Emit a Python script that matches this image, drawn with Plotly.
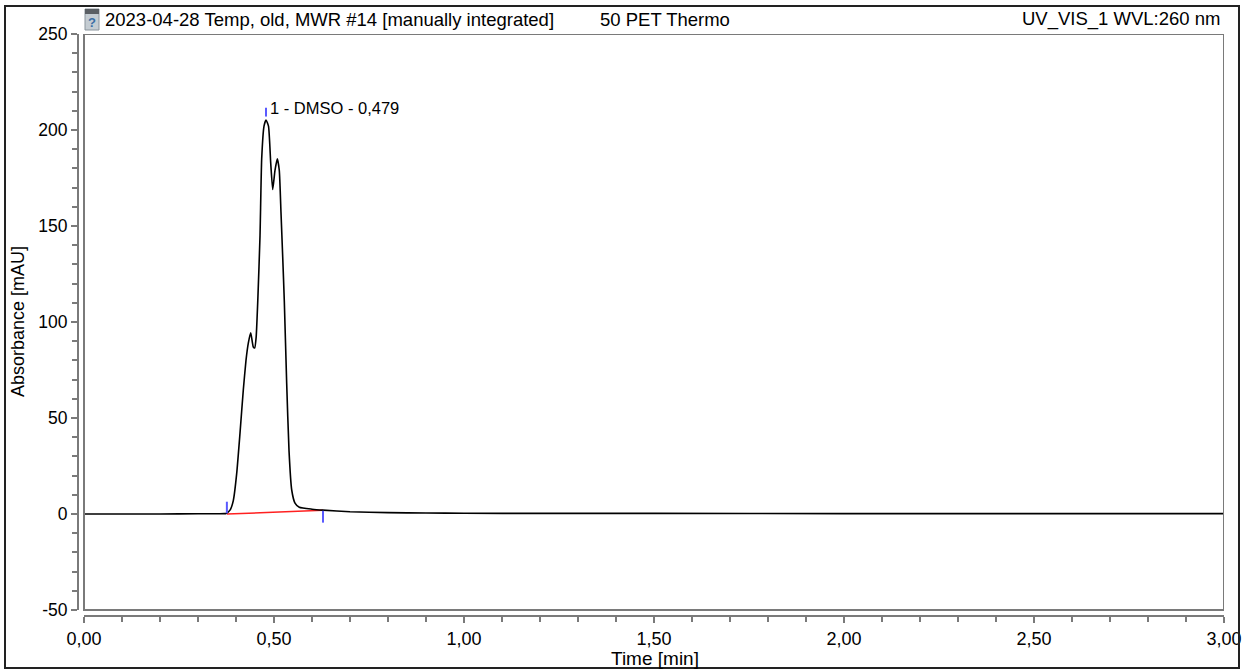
import plotly.graph_objects as go

# ---- data ----
time_min = [0.00, 0.10, 0.20, 0.30, 0.35, 0.370, 0.3737, 0.3842, 0.3929, 0.4018, 0.4105,
            0.4192, 0.4263, 0.4324, 0.4387, 0.4455, 0.4492, 0.4530, 0.4575, 0.4632, 0.4676,
            0.4737, 0.479, 0.4855, 0.4913, 0.4966, 0.5026, 0.5087, 0.5139, 0.5184, 0.5229,
            0.5271, 0.5334, 0.5395, 0.5466, 0.5553, 0.5666, 0.600, 0.629, 0.700, 0.800,
            0.900, 1.00, 1.20, 1.50, 2.00, 2.50, 3.00]
absorbance = [0.0, 0.0, 0.0, 0.1, 0.1, 0.2, 0.3, 2.0, 7.0, 21.0, 42.0,
              64.6, 80.0, 89.0, 94.4, 87.0, 86.5, 92.0, 112.0, 145.0, 185.0,
              202.0, 205.2, 202.0, 183.0, 169.0, 179.0, 185.0, 179.0, 157.0, 134.0,
              111.0, 68.0, 33.0, 12.5, 5.7, 3.5, 2.5, 2.0, 1.2, 0.7,
              0.5, 0.4, 0.3, 0.3, 0.2, 0.2, 0.2]

baseline_t = [0.376, 0.629]
baseline_v = [0.0, 1.9]
start_marker_v = [0.4, 6.4]
end_marker_v = [-4.5, 1.7]
peak_marker_v = [207.0, 211.6]
peak_time = 0.479
peak_label = "1 - DMSO - 0,479"

y_ticks = [-50, 0, 50, 100, 150, 200, 250]
y_tick_labels = ["-50", "0", "50", "100", "150", "200", "250"]
x_ticks = [0.0, 0.5, 1.0, 1.5, 2.0, 2.5, 3.0]
x_tick_labels = ["0,00", "0,50", "1,00", "1,50", "2,00", "2,50", "3,00"]
x_minor = [0.1, 0.2, 0.3, 0.4, 0.6, 0.7, 0.8, 0.9, 1.1, 1.2, 1.3, 1.4,
           1.6, 1.7, 1.8, 1.9, 2.1, 2.2, 2.3, 2.4, 2.6, 2.7, 2.8, 2.9]

title_left = "2023-04-28 Temp, old, MWR #14 [manually integrated]"
title_mid = "50 PET Thermo"
title_right = "UV_VIS_1 WVL:260 nm"
x_title = "Time [min]"
y_title = "Absorbance [mAU]"

# ---- layout geometry (pixels) ----
W, H = 1242, 671
L, R, T, B = 78, 1224, 34, 616        # plot area (axis domain)
def px(x):
    return (x - L) / (R - L)
def py(y):
    return (B - y) / (B - T)

FONT = "Liberation Sans, Arial, sans-serif"
AX = "#7a7a7a"
BLUE = "#5a5aff"

fig = go.Figure()
fig.add_trace(go.Scatter(x=baseline_t, y=baseline_v, mode="lines",
                         line=dict(color="#ff2020", width=1.5), hoverinfo="skip"))
fig.add_trace(go.Scatter(x=time_min, y=absorbance, mode="lines",
                         line=dict(color="black", width=1.6, shape="spline", smoothing=0.5)))
for t, v in [(baseline_t[0], start_marker_v), (baseline_t[1], end_marker_v), (peak_time, peak_marker_v)]:
    fig.add_trace(go.Scatter(x=[t, t], y=v, mode="lines",
                             line=dict(color=BLUE, width=2), hoverinfo="skip"))

fig.add_annotation(x=peak_time, y=peak_marker_v[1], xref="x", yref="y", text=peak_label,
                   showarrow=False, xanchor="left", yanchor="middle", xshift=2,
                   font=dict(family=FONT, size=16.5, color="black"))

shapes = []
shapes.append(dict(type="rect", xref="x", yref="y", x0=0, x1=3, y0=-50, y1=250,
                   line=dict(color=AX, width=2)))
shapes.append(dict(type="line", xref="paper", yref="y", x0=0, x1=0, y0=-50, y1=250,
                   line=dict(color=AX, width=2)))
shapes.append(dict(type="line", xref="x", yref="paper", x0=0, x1=3, y0=0, y1=0,
                   line=dict(color=AX, width=2)))
shapes.append(dict(type="rect", xref="paper", yref="paper", x0=px(5), x1=px(1239),
                   y0=py(668), y1=py(6), line=dict(color="#222222", width=2)))
# icon
shapes.append(dict(type="rect", xref="paper", yref="paper", x0=px(85), x1=px(99),
                   y0=py(30), y1=py(9), fillcolor="#c4ccd2", line=dict(color="#8a949c", width=1),
                   layer="below"))
shapes.append(dict(type="rect", xref="paper", yref="paper", x0=px(85), x1=px(99),
                   y0=py(14), y1=py(9), fillcolor="#5a5f64", line=dict(width=0), layer="below"))
fig.add_annotation(x=px(92), y=py(22.5), xref="paper", yref="paper", text="<b>?</b>", showarrow=False,
                   xanchor="center", yanchor="middle",
                   font=dict(family=FONT, size=13, color="#3a6ea5"))

fig.add_annotation(x=px(103), y=py(19), xref="paper", yref="paper", text=title_left,
                   showarrow=False, xanchor="left", yanchor="middle",
                   font=dict(family=FONT, size=18.5, color="black"))
fig.add_annotation(x=px(598), y=py(19), xref="paper", yref="paper", text=title_mid,
                   showarrow=False, xanchor="left", yanchor="middle",
                   font=dict(family=FONT, size=18.5, color="black"))
fig.add_annotation(x=px(1222), y=py(19), xref="paper", yref="paper", text=title_right,
                   showarrow=False, xanchor="right", yanchor="middle",
                   font=dict(family=FONT, size=18.5, color="black"))
fig.add_annotation(x=px(655), y=py(658), xref="paper", yref="paper", text=x_title,
                   showarrow=False, xanchor="center", yanchor="middle",
                   font=dict(family=FONT, size=19, color="black"))
fig.add_annotation(x=px(18), y=py(322), xref="paper", yref="paper", text=y_title,
                   showarrow=False, xanchor="center", yanchor="middle", textangle=-90,
                   font=dict(family=FONT, size=18, color="black"))

x0 = -(84 - L) / 380.0
y0 = -50 - (B - 610) / 1.92

fig.update_layout(
    width=W, height=H, autosize=False,
    margin=dict(l=L, r=W - R, t=T, b=H - B, pad=0, autoexpand=False),
    paper_bgcolor="white", plot_bgcolor="white",
    showlegend=False,
    separators=", ",
    shapes=shapes,
    font=dict(family=FONT, size=17.5, color="black"),
    xaxis=dict(range=[x0, 3.0], showgrid=False, zeroline=False, showline=False, automargin=False,
               tickvals=x_ticks, ticktext=x_tick_labels, ticks="outside", ticklen=6, tickwidth=2,
               tickcolor=AX, tickfont=dict(family=FONT, size=18),
               minor=dict(tickvals=x_minor, ticks="outside", ticklen=5, tickwidth=1.5, tickcolor=AX)),
    yaxis=dict(range=[y0, 250], showgrid=False, zeroline=False, showline=False, automargin=False,
               tickvals=y_ticks, ticktext=y_tick_labels, ticks="outside", ticklen=6, tickwidth=2,
               tickcolor=AX, tickfont=dict(family=FONT, size=17.5),
               minor=dict(dtick=10, tick0=0, ticks="outside", ticklen=5, tickwidth=1.5,
                          tickcolor=AX)),
)

fig.write_html("out.html", config={"responsive": False})
